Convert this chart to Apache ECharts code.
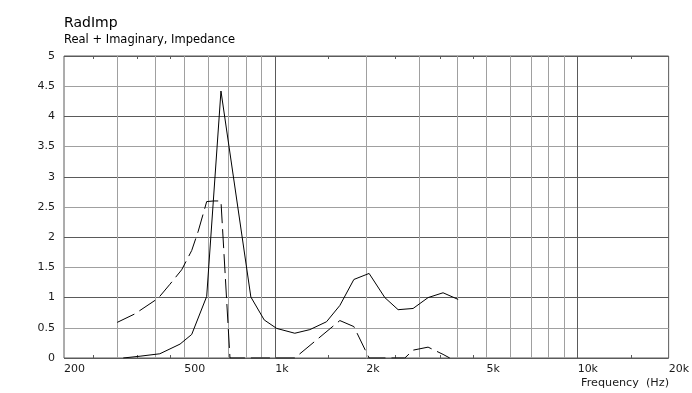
<!DOCTYPE html>
<html>
<head>
<meta charset="utf-8">
<script src="https://cdn.jsdelivr.net/npm/echarts@6/dist/echarts.min.js"></script>
<style>
html,body{margin:0;padding:0;background:#fff;}
#chart{width:692px;height:393px;}
</style>
</head>
<body>
<div id="chart"></div>
<script>
// ---- data ----
const titleText = 'RadImp';
const subtitleText = 'Real + Imaginary, Impedance';
const xAxisName = 'Frequency  (Hz)';

// solid curve
const solidFreq   = [314, 357, 415, 484, 529, 593, 661, 830, 919, 1010, 1160, 1301, 1477, 1635, 1819, 2043, 2303, 2548, 2856, 3201, 3588, 4025];
const solidValues = [0.00, 0.03, 0.07, 0.23, 0.39, 1.02, 4.42, 1.01, 0.63, 0.49, 0.41, 0.47, 0.60, 0.87, 1.30, 1.40, 1.00, 0.80, 0.82, 1.00, 1.08, 0.97];

// dashed curve
const dashFreq   = [300, 343, 410, 448, 490, 529, 556, 593, 626, 661, 708, 1160, 1635, 1819, 2043, 2682, 2856, 3201, 3588, 3776];
const dashValues = [0.59, 0.73, 0.99, 1.22, 1.46, 1.78, 2.10, 2.59, 2.60, 2.60, 0.00, 0.00, 0.62, 0.52, 0.00, 0.00, 0.13, 0.18, 0.06, 0.00];

// axes
const xLabelValues = [200, 500, 1000, 2000, 5000, 10000, 20000];
const xLabelTexts  = ['200', '500', '1k', '2k', '5k', '10k', '20k'];
const xMinorTicks  = [250, 350, 450, 1500, 2500, 3500, 4500, 15000];
const xGridLight   = [300, 400, 500, 600, 700, 800, 900, 2000, 3000, 4000, 5000, 6000, 7000, 8000, 9000];
const xGridDark    = [1000, 10000];
const yMin = 0, yMax = 5, yStep = 0.5;

// ---- chart ----
const FONT = 'DejaVu Sans';
const TXT = '#1a1a1a';
const LIGHT = '#a0a0a0';
const DARK = '#5a5a5a';

const chart = echarts.init(document.getElementById('chart'), null, {renderer: 'canvas'});

const pairs = (fs, vs) => fs.map((f, i) => [f, vs[i]]);

const gridLines = xGridLight.map(v => ({xAxis: v, lineStyle: {color: LIGHT}}))
  .concat(xGridDark.map(v => ({xAxis: v, lineStyle: {color: DARK}})));

const xAxisCommon = {
  type: 'log',
  logBase: 10,
  min: 200,
  max: 20000,
  axisLine: {show: false},
  splitLine: {show: false},
  minorTick: {show: false},
  axisTick: {
    show: true,
    inside: true,
    length: 3,
    customValues: xMinorTicks,
    lineStyle: {color: DARK, width: 1}
  }
};

chart.setOption({
  animation: false,
  backgroundColor: '#fff',
  title: [
    {text: titleText, left: 64, top: 16, padding: 0,
     textStyle: {fontFamily: FONT, fontSize: 14, fontWeight: 'normal', color: '#000'}},
    {text: subtitleText, left: 64, top: 34, padding: 0,
     textStyle: {fontFamily: FONT, fontSize: 11.5, fontWeight: 'normal', color: '#000'}},
    {text: xAxisName, right: 23, top: 378, padding: 0,
     textStyle: {fontFamily: FONT, fontSize: 11.2, fontWeight: 'normal', color: TXT}}
  ],
  grid: {
    left: 64, top: 56, width: 605, height: 302,
    show: true, borderColor: DARK, borderWidth: 1, backgroundColor: 'transparent'
  },
  xAxis: [
    Object.assign({}, xAxisCommon, {
      position: 'bottom',
      axisLabel: {
        show: true,
        customValues: xLabelValues,
        align: 'left',
        margin: 6,
        fontFamily: FONT,
        fontSize: 11,
        color: TXT,
        hideOverlap: false,
        formatter: function (v) {
          const i = xLabelValues.findIndex(x => Math.abs(x - v) < 1e-6 * x);
          return i >= 0 ? xLabelTexts[i] : '';
        }
      }
    }),
    Object.assign({}, xAxisCommon, {
      position: 'top',
      axisLabel: {show: false}
    })
  ],
  yAxis: {
    type: 'value',
    min: yMin,
    max: yMax,
    interval: yStep,
    axisLine: {show: false},
    axisTick: {show: false},
    axisLabel: {fontFamily: FONT, fontSize: 11, color: TXT, margin: 9},
    splitLine: {show: true, lineStyle: {color: [DARK, LIGHT], width: 1}}
  },
  series: [
    {
      type: 'line',
      data: [],
      z: 1,
      silent: true,
      markLine: {
        silent: true,
        symbol: ['none', 'none'],
        label: {show: false},
        animation: false,
        lineStyle: {type: 'solid', width: 1},
        emphasis: {disabled: true},
        data: gridLines
      }
    },
    {
      name: 'solid',
      type: 'line',
      z: 5,
      data: pairs(solidFreq, solidValues),
      showSymbol: false,
      symbol: 'none',
      lineStyle: {color: '#000', width: 1, type: 'solid'},
      itemStyle: {color: '#000'}
    },
    {
      name: 'dashed',
      type: 'line',
      z: 5,
      data: pairs(dashFreq, dashValues),
      showSymbol: false,
      symbol: 'none',
      lineStyle: {color: '#000', width: 1, type: [19, 6]},
      itemStyle: {color: '#000'}
    }
  ]
});
</script>
</body>
</html>
